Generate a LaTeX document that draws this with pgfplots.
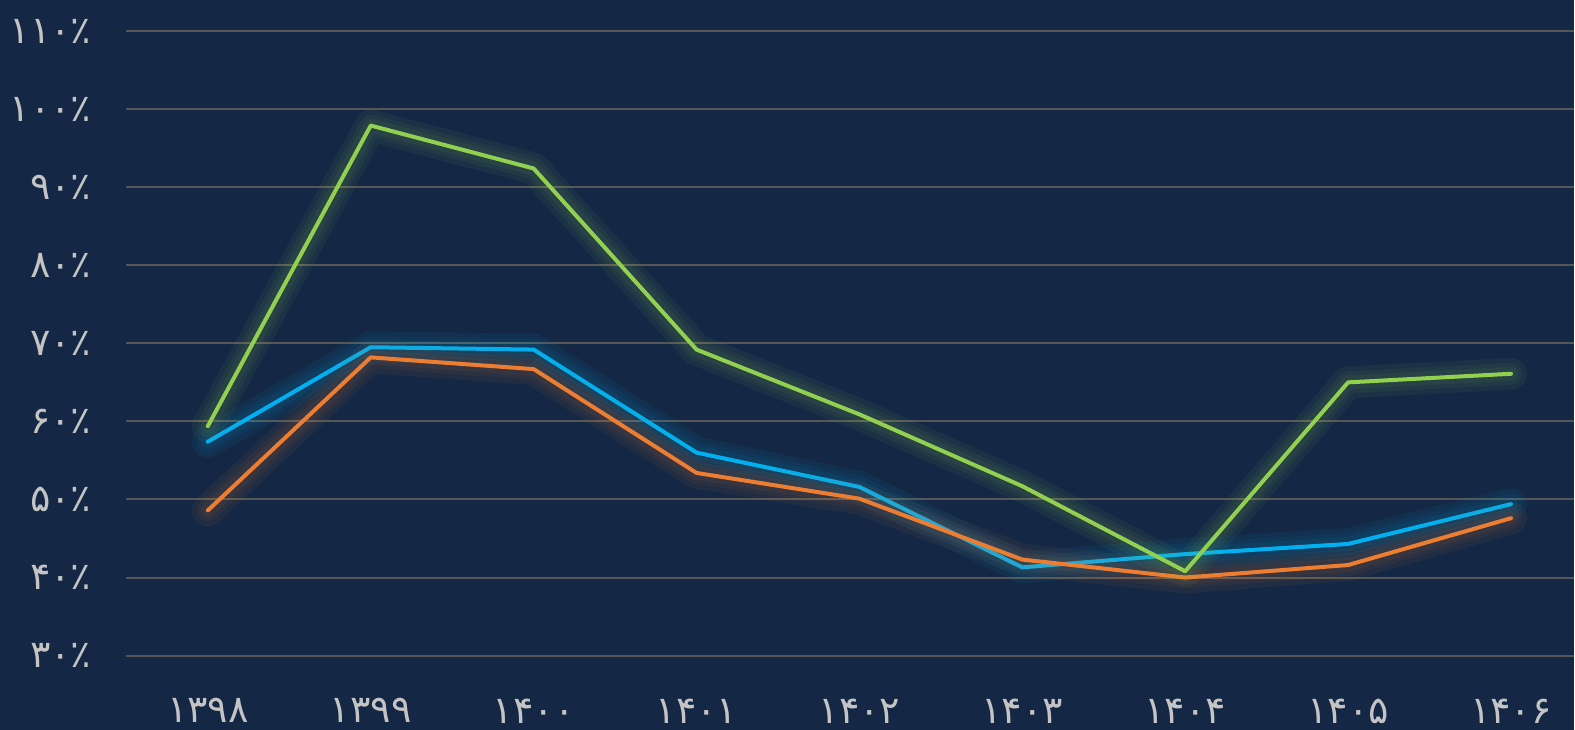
\documentclass[border=0pt]{standalone}
\usepackage{fontspec}
\usepackage{pgfplots}
\pgfplotsset{compat=1.18}
\newfontfamily\fa[Script=Arabic]{DejaVu Sans}
\definecolor{bgnavy}{HTML}{142845}
\definecolor{gridg}{HTML}{565656}
\definecolor{lblg}{HTML}{C4C4C4}
\definecolor{lgreen}{HTML}{92D050}
\definecolor{lblue}{HTML}{00B0F0}
\definecolor{lorange}{HTML}{ED7D31}

\pgfplotstableread{
x green blue orange
0 59.4 57.4 48.6
1 97.9 69.5 68.2
2 92.4 69.2 66.7
3 69.2 56.0 53.4
4 60.9 51.6 50.1
5 51.7 41.3 42.3
6 40.8 43.0 40.0
7 65.0 44.3 41.6
8 66.1 49.4 47.6
}\rates

\tikzset{glow/.style={line width=#1, opacity=0.06, line join=round, line cap=round},
 main/.style={line width=2pt, line join=round, line cap=round}}

\begin{document}
\begin{tikzpicture}
\fill[bgnavy] (-63.25pt,-37pt) rectangle (724.25pt,328pt);
\begin{axis}[
 at={(0,0)}, anchor=south west,
 scale only axis, width=724.25pt, height=312.45pt,
 xmin=-0.5, xmax=8.387, ymin=30, ymax=110,
 axis line style={draw=none},
 major tick length=0pt,
 xtick={0,...,8},
 xticklabels={۱۳۹۸,۱۳۹۹,۱۴۰۰,۱۴۰۱,۱۴۰۲,۱۴۰۳,۱۴۰۴,۱۴۰۵,۱۴۰۶},
 ytick={30,40,...,110},
 yticklabels={۳۰٪,۴۰٪,۵۰٪,۶۰٪,۷۰٪,۸۰٪,۹۰٪,۱۰۰٪,۱۱۰٪},
 ymajorgrids, grid style={gridg, line width=1pt},
 xticklabel style={font=\fa\fontsize{19}{19}\selectfont, text=lblg, yshift=-18pt},
 yticklabel style={font=\fa\fontsize{19}{19}\selectfont, text=lblg, xshift=-14pt},
 clip=false,
]
\addplot[lblue, glow=16pt] table[x=x,y=blue] {\rates};
\addplot[lblue, glow=11pt] table[x=x,y=blue] {\rates};
\addplot[lblue, glow=7pt] table[x=x,y=blue] {\rates};
\addplot[lblue, main] table[x=x,y=blue] {\rates};
\addplot[lorange, glow=16pt] table[x=x,y=orange] {\rates};
\addplot[lorange, glow=11pt] table[x=x,y=orange] {\rates};
\addplot[lorange, glow=7pt] table[x=x,y=orange] {\rates};
\addplot[lorange, main] table[x=x,y=orange] {\rates};
\addplot[lgreen, glow=16pt] table[x=x,y=green] {\rates};
\addplot[lgreen, glow=11pt] table[x=x,y=green] {\rates};
\addplot[lgreen, glow=7pt] table[x=x,y=green] {\rates};
\addplot[lgreen, main] table[x=x,y=green] {\rates};
\end{axis}
\end{tikzpicture}
\end{document}
